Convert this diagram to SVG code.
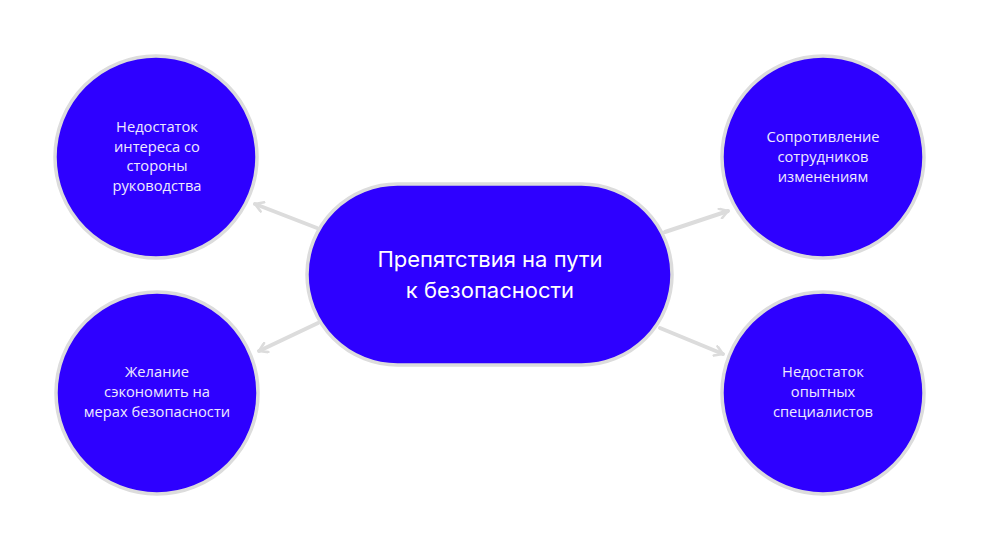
<svg xmlns="http://www.w3.org/2000/svg" width="981" height="551" viewBox="0 0 981 551">
<defs>
<style>
.node{fill:#2e00ff;stroke:#dcdcdc;stroke-width:3.5}
.lbl{font-family:"Open Sans","Liberation Sans",sans-serif;font-size:14.7px;fill:#eeeaff;text-anchor:middle}
.title{font-family:Inter,"Liberation Sans",sans-serif;font-size:22px;fill:#ffffff;text-anchor:middle}
.conn{stroke:#dcdcdc;stroke-width:4;fill:none;stroke-linecap:round}
</style>
<marker id="arr" viewBox="0 0 12 12" refX="10" refY="6" markerWidth="12" markerHeight="12" markerUnits="userSpaceOnUse" orient="auto">
<path d="M2,1 L10,6 L2,11" fill="none" stroke="#dcdcdc" stroke-width="2.6" stroke-linecap="round" stroke-linejoin="round"/>
</marker>
</defs>
<rect width="981" height="551" fill="#ffffff"/>
<g id="connectors">
<line class="conn" x1="317" y1="228" x2="255" y2="204" marker-end="url(#arr)"/>
<line class="conn" x1="665" y1="232" x2="728" y2="211" marker-end="url(#arr)"/>
<line class="conn" x1="318" y1="323" x2="259" y2="351" marker-end="url(#arr)"/>
<line class="conn" x1="660" y1="328" x2="723" y2="354" marker-end="url(#arr)"/>
</g>
<g id="center">
<rect class="node" x="307" y="184" width="365" height="181" rx="90.5" ry="90.5"/>
<text class="title" x="490" y="267">Препятствия на пути</text>
<text class="title" x="490" y="298">к безопасности</text>
</g>
<g id="n1">
<circle class="node" cx="156" cy="157" r="101"/>
<text class="lbl" x="157" y="132">Недостаток</text>
<text class="lbl" x="157" y="152">интереса со</text>
<text class="lbl" x="157" y="171">стороны</text>
<text class="lbl" x="157" y="191">руководства</text>
</g>
<g id="n2">
<circle class="node" cx="823" cy="157" r="101"/>
<text class="lbl" x="823" y="142">Сопротивление</text>
<text class="lbl" x="823" y="162">сотрудников</text>
<text class="lbl" x="823" y="182">изменениям</text>
</g>
<g id="n3">
<circle class="node" cx="157" cy="393" r="101"/>
<text class="lbl" x="157" y="377">Желание</text>
<text class="lbl" x="157" y="397">сэкономить на</text>
<text class="lbl" x="157" y="417">мерах безопасности</text>
</g>
<g id="n4">
<circle class="node" cx="823" cy="393" r="101"/>
<text class="lbl" x="823" y="377">Недостаток</text>
<text class="lbl" x="823" y="397">опытных</text>
<text class="lbl" x="823" y="417">специалистов</text>
</g>
</svg>
